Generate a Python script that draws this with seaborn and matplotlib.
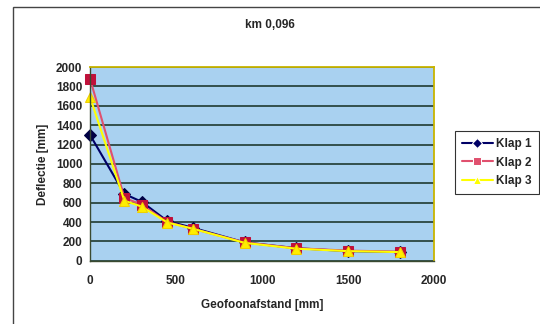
import matplotlib
matplotlib.use("Agg")
import matplotlib.pyplot as plt
import pandas as pd
import seaborn as sns
from matplotlib.patches import Rectangle

afstand = [0, 200, 300, 450, 600, 900, 1200, 1500, 1800]
klap_1 = [1300, 690, 610, 410, 340, 190, 130, 100, 90]
klap_2 = [1880, 650, 580, 400, 330, 190, 130, 105, 95]
klap_3 = [1690, 620, 560, 395, 330, 185, 125, 100, 90]
series_names = ["Klap 1", "Klap 2", "Klap 3"]

frames = []
for name, vals in zip(series_names, [klap_1, klap_2, klap_3]):
    frames.append(pd.DataFrame({"afstand": afstand, "deflectie": vals, "klap": name}))
df = pd.concat(frames, ignore_index=True)

sns.set_style("white")
plt.rcParams["font.family"] = ["Liberation Sans", "DejaVu Sans"]
plt.rcParams["font.weight"] = "bold"

fig = plt.figure(figsize=(5.4, 3.24), dpi=100)
ax = fig.add_axes([0.1667, 0.195, 0.637, 0.598])

# outer chart frame (continues past the right/bottom edge)
fig.patches.append(Rectangle((13 / 540, -0.1), 1.2, 1 - 7 / 324 + 0.1,
                             transform=fig.transFigure, fill=False,
                             edgecolor="#444444", linewidth=1.0, zorder=0))

ax.set_facecolor("#a9d1f0")
palette = {"Klap 1": "#000066", "Klap 2": "#e0506e", "Klap 3": "#ffff00"}
markers = {"Klap 1": "D", "Klap 2": "s", "Klap 3": "^"}

sns.lineplot(data=df, x="afstand", y="deflectie", hue="klap", style="klap",
             palette=palette, markers=markers, dashes=False, ax=ax,
             linewidth=1.5, markersize=7)

# marker faces like the original
for line, name in zip(ax.get_lines()[:3], series_names):
    line.set_clip_on(False)
    if name == "Klap 2":
        line.set_markerfacecolor("#c0103a")
        line.set_markeredgecolor("#c0103a")
    elif name == "Klap 3":
        line.set_markerfacecolor("#ffee00")
        line.set_markeredgecolor("#f0d000")
    else:
        line.set_markerfacecolor("#000044")
        line.set_markeredgecolor("#000044")
        line.set_markersize(6)

ax.set_xlim(0, 2000)
ax.set_ylim(0, 2000)
ax.set_xticks([0, 500, 1000, 1500, 2000])
ax.set_yticks(range(0, 2001, 200))
ax.yaxis.grid(True, color="#1f3a30", linewidth=1.2)
ax.set_axisbelow(True)

for side in ["top", "right"]:
    ax.spines[side].set_color("#c8b400")
    ax.spines[side].set_linewidth(1.3)
for side in ["left", "bottom"]:
    ax.spines[side].set_color("#3a4a30")
    ax.spines[side].set_linewidth(1.0)

ax.tick_params(axis="both", labelsize=8.5, direction="inout", length=4,
               color="#3a4a30", width=0.8)
ax.tick_params(axis="x", pad=8)
for lbl in ax.get_xticklabels() + ax.get_yticklabels():
    lbl.set_fontweight("bold")

ax.set_xlabel("Geofoonafstand [mm]", fontsize=8.5, fontweight="bold", labelpad=9)
ax.set_ylabel("Deflectie [mm]", fontsize=8.5, fontweight="bold", labelpad=5)
fig.text(0.5, 1 - 25 / 324, "km 0,096", ha="center", va="center",
         fontsize=8.5, fontweight="bold")

handles, labels = ax.get_legend_handles_labels()
leg = ax.legend(handles, labels, loc="upper left",
                bbox_to_anchor=(455 / 540, 1 - 131 / 324), bbox_transform=fig.transFigure,
                frameon=True, fancybox=False, edgecolor="black",
                prop={"size": 8.5, "weight": "bold"}, handlelength=2.6,
                borderpad=0.6, labelspacing=0.55, handletextpad=0.3,
                borderaxespad=0, markerscale=0.8)
leg.get_frame().set_linewidth(0.8)

fig.savefig("out.png", dpi=100)
